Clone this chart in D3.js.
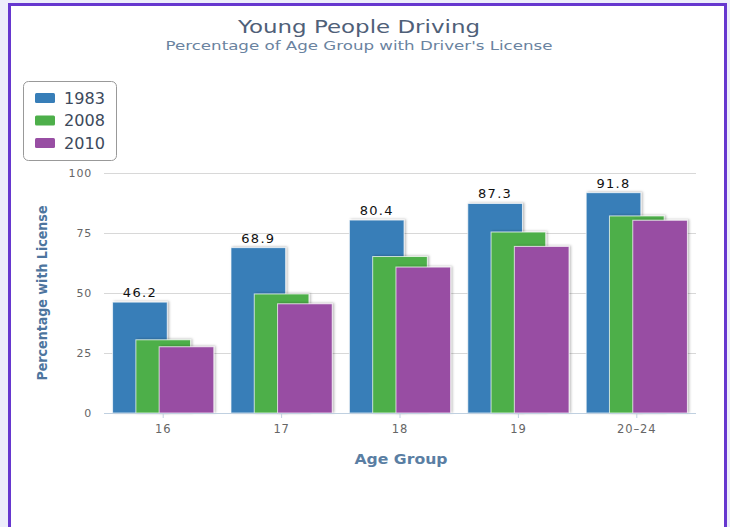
<!DOCTYPE html>
<html>
<head>
<meta charset="utf-8">
<script src="https://cdn.jsdelivr.net/npm/d3@7"></script>
<style>
  body { margin: 0; background: #ededfb; }
</style>
</head>
<body>
<div id="chart"></div>
<script>
// values
const ageGroups = ['16', '17', '18', '19', '20–24']
const years = ['1983', '2008', '2010']
const values1983 = [46.2, 68.9, 80.4, 87.3, 91.8]
const values2008 = [30.5, 49.6, 65.2, 75.4, 82.1]
const values2010 = [27.6, 45.5, 60.8, 69.4, 80.3]
const yTicks = [0, 25, 50, 75, 100]
const colors = ['#377eb8', '#4daf4a', '#984ea3']

const W = 730, H = 527
const plot = {left: 104, right: 696, top: 173, bottom: 413}

const series = years.map((yr, i) => ({
    year: yr,
    color: colors[i],
    values: [values1983, values2008, values2010][i]
}))

const svg = d3.select('#chart').append('svg')
    .attr('width', W)
    .attr('height', H)
    .style('display', 'block')

// bar shadow
const defs = svg.append('defs')
defs.append('filter')
    .attr('id', 'shadow')
    .attr('x', '-10%').attr('y', '-10%').attr('width', '130%').attr('height', '130%')
    .append('feDropShadow')
    .attr('dx', 1.5).attr('dy', -0.5)
    .attr('stdDeviation', 1)
    .attr('flood-color', '#000')
    .attr('flood-opacity', 0.28)

// frame
svg.append('rect')
    .attr('x', 9.5).attr('y', 4.5)
    .attr('width', 716).attr('height', 540)
    .attr('fill', '#fff')
    .attr('stroke', '#6637cf')
    .attr('stroke-width', 3)

const x = d3.scaleBand(ageGroups, [plot.left, plot.right])
    .paddingInner(0.145)
    .paddingOuter(0.0725)
const y = d3.scaleLinear([0, 100], [plot.bottom, plot.top])

const bw = x.bandwidth()
const barW = bw * 0.54
const inner = d3.scaleLinear([0, years.length - 1], [0, bw - barW])

// titles (the source picture is a bit wide, so stretch the glyphs)
svg.append('text')
    .attr('x', 359).attr('y', 33)
    .attr('text-anchor', 'middle')
    .attr('font-family', 'DejaVu Sans')
    .attr('font-size', 18.5)
    .attr('textLength', 242)
    .attr('lengthAdjust', 'spacingAndGlyphs')
    .attr('fill', '#4f6078')
    .text('Young People Driving')

svg.append('text')
    .attr('x', 359).attr('y', 50)
    .attr('text-anchor', 'middle')
    .attr('font-family', 'DejaVu Sans')
    .attr('font-size', 13)
    .attr('textLength', 387)
    .attr('lengthAdjust', 'spacingAndGlyphs')
    .attr('fill', '#6a83a0')
    .text("Percentage of Age Group with Driver's License")

// grid
svg.append('g')
    .selectAll('line')
    .data(yTicks.filter(d => d > 0))
    .join('line')
    .attr('x1', plot.left).attr('x2', plot.right)
    .attr('y1', d => Math.round(y(d)) + 0.5)
    .attr('y2', d => Math.round(y(d)) + 0.5)
    .attr('stroke', '#d8d8d8')

// y labels
svg.append('g')
    .selectAll('text')
    .data(yTicks)
    .join('text')
    .attr('x', 92)
    .attr('y', d => y(d) + 4)
    .attr('text-anchor', 'end')
    .attr('font-family', 'DejaVu Sans')
    .attr('font-size', 11)
    .attr('letter-spacing', 0.8)
    .attr('fill', '#666')
    .text(d => d)

svg.append('text')
    .attr('transform', `translate(47, 293) rotate(-90)`)
    .attr('text-anchor', 'middle')
    .attr('font-family', 'Liberation Sans Narrow, DejaVu Sans Condensed, sans-serif')
    .attr('font-weight', 'bold')
    .attr('font-size', 14)
    .attr('textLength', 175)
    .attr('lengthAdjust', 'spacingAndGlyphs')
    .attr('fill', '#4d759e')
    .text('Percentage with License')

// bars
const groups = svg.append('g')
    .selectAll('g')
    .data(series)
    .join('g')
    .attr('fill', d => d.color)

groups.selectAll('rect')
    .data((s, si) => s.values.map((v, i) => ({v, i, si})))
    .join('rect')
    .attr('x', d => x(ageGroups[d.i]) + inner(d.si))
    .attr('y', d => y(d.v))
    .attr('width', barW)
    .attr('height', d => y(0) - y(d.v))
    .attr('stroke', '#fff')
    .attr('stroke-opacity', 0.7)
    .attr('stroke-width', 1)
    .attr('filter', 'url(#shadow)')

// data labels on 1983 only
svg.append('g')
    .selectAll('text')
    .data(values1983)
    .join('text')
    .attr('x', (d, i) => x(ageGroups[i]) + inner(0) + barW / 2)
    .attr('y', d => y(d) - 5)
    .attr('text-anchor', 'middle')
    .attr('font-family', 'DejaVu Sans')
    .attr('font-size', 13)
    .attr('letter-spacing', 1.3)
    .attr('fill', '#111')
    .text(d => d)

// x axis
const xAxis = svg.append('g')
    .attr('transform', `translate(0, ${plot.bottom})`)
    .call(d3.axisBottom(x).tickSize(5).tickPadding(7))
xAxis.select('.domain').attr('stroke', '#c0d0e0').attr('d', `M${plot.left},0.5H${plot.right}`)
xAxis.selectAll('.tick line').attr('stroke', '#c0d0e0')
xAxis.selectAll('.tick text')
    .attr('font-family', 'DejaVu Sans')
    .attr('font-size', 11.5)
    .attr('letter-spacing', 0.9)
    .attr('fill', '#666')

svg.append('text')
    .attr('x', 401).attr('y', 464)
    .attr('text-anchor', 'middle')
    .attr('font-family', 'DejaVu Sans')
    .attr('font-weight', 'bold')
    .attr('font-size', 14.5)
    .attr('textLength', 93)
    .attr('lengthAdjust', 'spacingAndGlyphs')
    .attr('fill', '#5a7ea3')
    .text('Age Group')

// legend
const legend = svg.append('g')
legend.append('rect')
    .attr('x', 23.5).attr('y', 81.5)
    .attr('width', 93).attr('height', 79)
    .attr('rx', 5)
    .attr('fill', '#fff')
    .attr('stroke', '#999')

const item = legend.selectAll('g')
    .data(series)
    .join('g')
    .attr('transform', (d, i) => `translate(35, ${98 + i * 22.5})`)
item.append('rect')
    .attr('x', 0).attr('y', -5)
    .attr('width', 20).attr('height', 10)
    .attr('rx', 1.5)
    .attr('fill', d => d.color)
item.append('text')
    .attr('x', 29).attr('y', 5.5)
    .attr('font-family', 'DejaVu Sans')
    .attr('font-size', 15)
    .attr('textLength', 41)
    .attr('lengthAdjust', 'spacingAndGlyphs')
    .attr('fill', '#3d4a5c')
    .text(d => d.year)
</script>
</body>
</html>
